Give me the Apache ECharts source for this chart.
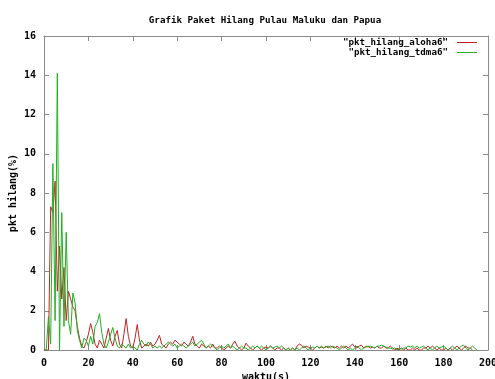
<!DOCTYPE html>
<html>
<head>
<meta charset="utf-8">
<script src="https://cdn.jsdelivr.net/npm/echarts@6/dist/echarts.min.js"></script>
<style>
  html, body { margin: 0; padding: 0; background: #fff; }
  #chart { width: 495px; height: 379px; }
</style>
</head>
<body>
<div id="chart"></div>
<script>
// Packet loss (%) per second of simulation, two MAC schemes
const startTime = 0;   // seconds
const timeStep = 1;    // seconds between samples

const alohaLoss = [
  0, 0, 0, 7.3, 7.0, 8.6, 3.0, 5.3, 2.6, 4.2,
  1.5, 3.0, 2.6, 2.2, 2.0, 1.2, 0.6, 0.2, 0.1, 0.4,
  0.8, 1.35, 0.9, 0.3, 0.1, 0.5, 0.3, 0.1, 0.6, 1.1,
  0.5, 0.2, 0.7, 1.0, 0.3, 0.1, 0.8, 1.6, 0.7, 0.2,
  0.1, 0.6, 1.3, 0.5, 0.1, 0.2, 0.3, 0.2, 0.4, 0.2,
  0.3, 0.5, 0.75, 0.3, 0.2, 0.1, 0.3, 0.4, 0.3, 0.5,
  0.4, 0.3, 0.2, 0.4, 0.3, 0.2, 0.4, 0.7, 0.3, 0.2,
  0.1, 0.3, 0.2, 0.1, 0.2, 0.1, 0.3, 0.1, 0.1, 0.2,
  0.1, 0.0, 0.1, 0.2, 0.1, 0.3, 0.45, 0.2, 0.1, 0.0,
  0.1, 0.35, 0.2, 0.1, 0.0, 0.1, 0.2, 0.1, 0.0, 0.1,
  0.15, 0.1, 0.2, 0.1, 0.0, 0.1, 0.1, 0.0, 0.1, 0.0,
  0.1, 0.0, 0.1, 0.0, 0.2, 0.3, 0.25, 0.1, 0.2, 0.15,
  0.1, 0.0, 0.1, 0.2, 0.1, 0.15, 0.1, 0.2, 0.1, 0.2,
  0.15, 0.1, 0.2, 0.1, 0.2, 0.1, 0.2, 0.1, 0.2, 0.3,
  0.15, 0.1, 0.2, 0.25, 0.1, 0.15, 0.2, 0.1, 0.15, 0.1,
  0.2, 0.1, 0.1, 0.2, 0.1, 0.1, 0.2, 0.1, 0.0, 0.1,
  0.0, 0.1, 0.0, 0.1, 0.0, 0.0, 0.1, 0.0, 0.1, 0.0,
  0.0, 0.1, 0.1, 0.2, 0.1, 0.2, 0.1, 0.0, 0.1, 0.0,
  0.0, 0.1, 0.0, 0.1, 0.0, 0.1, 0.2, 0.1, 0.0, 0.1,
  0.2, 0.1, 0.1, 0.0
];

const tdmaLoss = [
  0, 0, 1.7, 0.3, 9.5, 1.5, 14.1, 0, 7.0, 1.2,
  6.0, 1.5, 0.8, 2.9, 2.4, 1.0, 0.5, 0.1, 0.6, 0.5,
  0.2, 0.7, 0.3, 1.2, 1.4, 1.85, 0.9, 0.3, 0.1, 0.4,
  0.8, 1.15, 0.6, 0.2, 0.1, 0.3, 0.2, 0.1, 0.3, 0.1,
  0.2, 0.1, 0.0, 0.3, 0.5, 0.3, 0.2, 0.4, 0.3, 0.1,
  0.2, 0.1, 0.2, 0.1, 0.2, 0.3, 0.4, 0.3, 0.2, 0.3,
  0.1, 0.2, 0.3, 0.2, 0.1, 0.2, 0.3, 0.4, 0.2, 0.3,
  0.4, 0.5, 0.3, 0.1, 0.2, 0.3, 0.2, 0.1, 0.0, 0.1,
  0.2, 0.1, 0.2, 0.3, 0.1, 0.2, 0.1, 0.0, 0.1, 0.2,
  0.1, 0.1, 0.0, 0.1, 0.2, 0.1, 0.2, 0.1, 0.2, 0.1,
  0.0, 0.1, 0.2, 0.1, 0.15, 0.2, 0.1, 0.2, 0.1, 0.0,
  0.1, 0.0, 0.1, 0.0, 0.1, 0.0, 0.1, 0.2, 0.1, 0.0,
  0.1, 0.15, 0.1, 0.2, 0.1, 0.2, 0.1, 0.15, 0.2, 0.1,
  0.2, 0.15, 0.1, 0.0, 0.1, 0.2, 0.1, 0.0, 0.1, 0.0,
  0.1, 0.2, 0.1, 0.0, 0.1, 0.2, 0.15, 0.2, 0.15, 0.1,
  0.2, 0.2, 0.25, 0.2, 0.15, 0.1, 0.1, 0.05, 0.1, 0.0,
  0.1, 0.05, 0.1, 0.1, 0.2, 0.15, 0.2, 0.1, 0.2, 0.1,
  0.15, 0.2, 0.1, 0.0, 0.1, 0.0, 0.1, 0.2, 0.1, 0.15,
  0.2, 0.1, 0.0, 0.1, 0.2, 0.1, 0.0, 0.1, 0.2, 0.25,
  0.1, 0.0, 0.1, 0.2, 0.1, 0.0
];

const xTicks = { min: 0, max: 200, interval: 20 };
const yTicks = { min: 0, max: 16, interval: 2 };

const alohaName = '"pkt_hilang_aloha6"';
const tdmaName = '"pkt_hilang_tdma6"';

function pairs(values) {
  return values.map((v, i) => [startTime + i * timeStep, v]);
}

const FONT = '"DejaVu Sans Mono", "Liberation Mono", monospace';
const BORDER = '#8a8a8a';

function frameAxis(extra) {
  return Object.assign({
    type: 'value',
    axisLine: { show: true, onZero: false, lineStyle: { color: BORDER, width: 1 } },
    axisTick: { show: true, inside: true, length: 5, lineStyle: { color: BORDER } },
    splitLine: { show: false },
    axisLabel: { show: false }
  }, extra);
}

const smallText = { fontFamily: FONT, fontSize: 9.2, fontWeight: 'bold', color: '#000' };
const tickText = { fontFamily: FONT, fontSize: 10, fontWeight: 'bold', color: '#000' };

const chart = echarts.init(document.getElementById('chart'), null, { renderer: 'canvas' });

chart.setOption({
  animation: false,
  backgroundColor: '#ffffff',
  title: {
    text: 'Grafik Paket Hilang Pulau Maluku dan Papua',
    left: 265,
    top: 16,
    textAlign: 'center',
    padding: 0,
    textStyle: smallText
  },
  legend: [
    {
      data: [alohaName], right: 18, top: 38, padding: 0, align: 'right',
      icon: 'rect', itemWidth: 20, itemHeight: 1,
      selectedMode: false,
      textStyle: Object.assign({ padding: [0, 4, 0, 0] }, smallText)
    },
    {
      data: [tdmaName], right: 18, top: 48, padding: 0, align: 'right',
      icon: 'rect', itemWidth: 20, itemHeight: 1,
      selectedMode: false,
      textStyle: Object.assign({ padding: [0, 4, 0, 0] }, smallText)
    }
  ],
  grid: { left: 44, right: 7, top: 36, bottom: 29, containLabel: false, outerBoundsMode: 'none' },
  xAxis: [
    frameAxis({
      position: 'bottom', min: xTicks.min, max: xTicks.max, interval: xTicks.interval,
      name: 'waktu(s)', nameLocation: 'middle', nameGap: 22, nameMoveOverlap: false,
      nameTextStyle: tickText,
      axisLabel: Object.assign({ show: true, margin: 8 }, tickText)
    }),
    frameAxis({ position: 'top', min: xTicks.min, max: xTicks.max, interval: xTicks.interval })
  ],
  yAxis: [
    frameAxis({
      position: 'left', min: yTicks.min, max: yTicks.max, interval: yTicks.interval,
      name: 'pkt hilang(%)', nameLocation: 'middle', nameGap: 26, nameRotate: 90,
      nameMoveOverlap: false,
      nameTextStyle: tickText,
      axisLabel: Object.assign({ show: true, margin: 8 }, tickText)
    }),
    frameAxis({ position: 'right', min: yTicks.min, max: yTicks.max, interval: yTicks.interval })
  ],
  series: [
    {
      name: alohaName, type: 'line', xAxisIndex: 0, yAxisIndex: 0,
      data: pairs(alohaLoss), showSymbol: false, symbol: 'none',
      color: '#c02424', lineStyle: { color: '#c02424', width: 1 }
    },
    {
      name: tdmaName, type: 'line', xAxisIndex: 0, yAxisIndex: 0,
      data: pairs(tdmaLoss), showSymbol: false, symbol: 'none',
      color: '#22b022', lineStyle: { color: '#22b022', width: 1 }
    }
  ]
});
</script>
</body>
</html>
